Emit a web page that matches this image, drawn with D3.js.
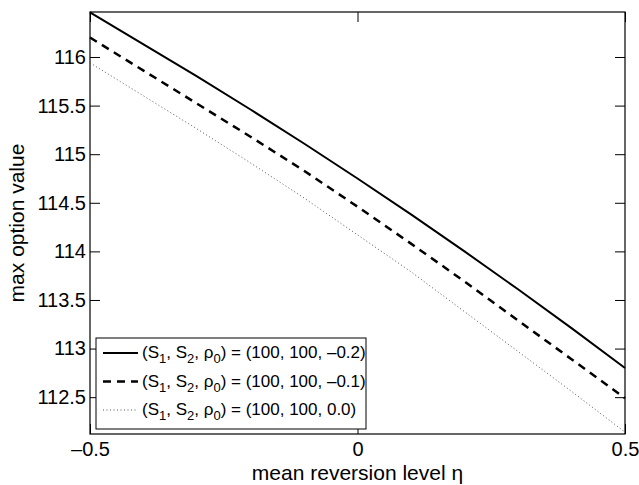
<!DOCTYPE html>
<html>
<head>
<meta charset="utf-8">
<script src="https://cdn.jsdelivr.net/npm/d3@7"></script>
<style>
  body { margin: 0; background: #fff; }
  text { font-family: "Liberation Sans", Arial, sans-serif; fill: #000; }
</style>
</head>
<body>
<svg width="639" height="485"></svg>
<script>
// data
var eta = [-0.5, -0.4, -0.3, -0.2, -0.1, 0, 0.1, 0.2, 0.3, 0.4, 0.5];
var rhoM02 = [116.46, 116.13, 115.80, 115.46, 115.11, 114.75, 114.38, 114.00, 113.61, 113.21, 112.80];
var rhoM01 = [116.20, 115.86, 115.52, 115.18, 114.83, 114.46, 114.08, 113.69, 113.29, 112.89, 112.49];
var rho00  = [115.94, 115.60, 115.26, 114.91, 114.55, 114.17, 113.79, 113.38, 112.97, 112.56, 112.14];
var xTicks = [-0.5, 0, 0.5];
var yTicks = [112.5, 113, 113.5, 114, 114.5, 115, 115.5, 116];
var legendRho = ["\u2013" + "0.2", "\u2013" + "0.1", "0.0"];

var pLeft = 90, pRight = 625, pTop = 12, pBottom = 434;
var svg = d3.select("svg");

var x = d3.scaleLinear().domain([-0.5, 0.5]).range([pLeft, pRight]);
var y = d3.scaleLinear().domain([112.121, 116.463]).range([pBottom, pTop]);

function fmt(d) {
    var s = String(d);
    return d < 0 ? "\u2013" + s.slice(1) : s;
}

// axes with inward ticks
var gl = svg.append("g").attr("transform", "translate(" + pLeft + ",0)")
    .call(d3.axisLeft(y).tickValues(yTicks).tickSize(-10).tickPadding(4).tickFormat(fmt));
var gr = svg.append("g").attr("transform", "translate(" + pRight + ",0)")
    .call(d3.axisRight(y).tickValues(yTicks).tickSize(-10).tickFormat(""));
var gb = svg.append("g").attr("transform", "translate(0," + pBottom + ")")
    .call(d3.axisBottom(x).tickValues(xTicks).tickSize(-10).tickPadding(8).tickFormat(fmt));
var gt = svg.append("g").attr("transform", "translate(0," + pTop + ")")
    .call(d3.axisTop(x).tickValues(xTicks).tickSize(-10).tickFormat(""));

[gl, gr, gb, gt].forEach(function(g) {
    g.select(".domain").remove();
    g.selectAll("line").attr("stroke", "#000").attr("stroke-width", 1);
    g.selectAll("text").style("font-size", "20px").attr("fill", "#000");
});

svg.append("rect")
    .attr("x", pLeft).attr("y", pTop)
    .attr("width", pRight - pLeft).attr("height", pBottom - pTop)
    .attr("fill", "none").attr("stroke", "#000").attr("stroke-width", 1.2);

var styles = [
    { data: rhoM02, width: 2, dash: null, color: "#000" },
    { data: rhoM01, width: 2.5, dash: "8,6", color: "#000" },
    { data: rho00, width: 1, dash: "1,2.5", color: "#555" }
];

var line = d3.line()
    .x(function(d, i) { return x(eta[i]); })
    .y(function(d) { return y(d); });

styles.forEach(function(s) {
    svg.append("path")
        .datum(s.data)
        .attr("d", line)
        .attr("fill", "none")
        .attr("stroke", s.color)
        .attr("stroke-width", s.width)
        .attr("stroke-dasharray", s.dash);
});

// labels
svg.append("text")
    .attr("x", (pLeft + pRight) / 2).attr("y", 480)
    .attr("text-anchor", "middle")
    .style("font-size", "21px")
    .text("mean reversion level \u03b7");

svg.append("text")
    .attr("transform", "translate(24," + ((pTop + pBottom) / 2) + ") rotate(-90)")
    .attr("text-anchor", "middle")
    .style("font-size", "21px")
    .text("max option value");

// legend
var lg = svg.append("g");
lg.append("rect")
    .attr("x", 96).attr("y", 338).attr("width", 270).attr("height", 91)
    .attr("fill", "#fff").attr("stroke", "#000").attr("stroke-width", 1);

styles.forEach(function(s, i) {
    var cy = 353 + i * 28.5;
    lg.append("line")
        .attr("x1", 103).attr("x2", 138).attr("y1", cy).attr("y2", cy)
        .attr("stroke", s.color).attr("stroke-width", s.width)
        .attr("stroke-dasharray", s.dash);
    var t = lg.append("text").attr("x", 142).attr("y", cy + 5).style("font-size", "17px");
    t.append("tspan").text("(S");
    t.append("tspan").attr("dy", 5).style("font-size", "13px").text("1");
    t.append("tspan").attr("dy", -5).text(", S");
    t.append("tspan").attr("dy", 5).style("font-size", "13px").text("2");
    t.append("tspan").attr("dy", -5).text(", \u03c1");
    t.append("tspan").attr("dy", 5).style("font-size", "13px").text("0");
    t.append("tspan").attr("dy", -5).text(") = (100, 100, " + legendRho[i] + ")");
});
</script>
</body>
</html>
